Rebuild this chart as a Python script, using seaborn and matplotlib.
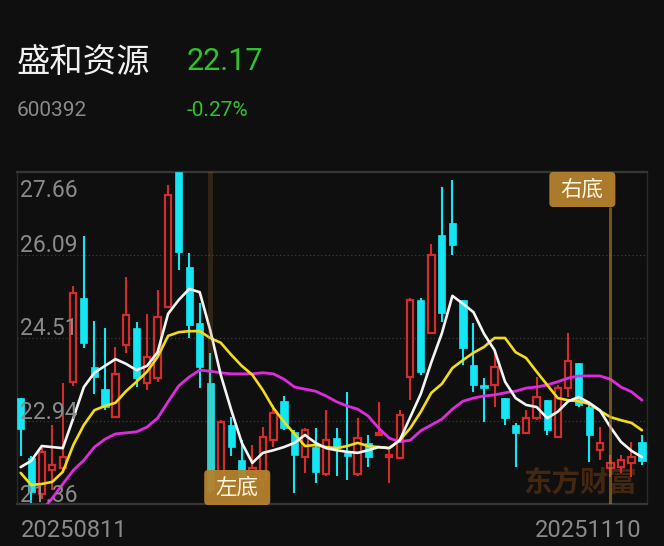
import numpy as np
import pandas as pd
import matplotlib
matplotlib.use("Agg")
import matplotlib.pyplot as plt
import matplotlib.transforms as mtrans
from matplotlib.patches import FancyBboxPatch
import seaborn as sns

# ---------------- data ----------------
stock_name = "盛和资源"
stock_code = "600392"
last_price = "22.17"
pct_change = "-0.27%"
date_labels = ["20250811", "20251110"]
y_tick_labels = ["27.66", "26.09", "24.51", "22.94", "21.36"]
y_tick_values = [27.66, 26.085, 24.51, 22.935, 21.36]

opens = [23.37, 22.23, 21.55, 22.00, 22.05, 23.67, 25.27, 23.96, 23.54, 23.01,
         24.38, 24.70, 23.66, 23.75, 25.10, 27.66, 25.86, 24.79, 23.66, 21.70,
         22.86, 22.19, 21.85, 21.82, 22.57, 23.31, 22.73, 22.25, 22.44, 21.93,
         22.61, 22.32, 21.93, 22.52, 22.67, 22.25, 22.23, 23.77, 25.23, 24.60,
         26.46, 26.69, 25.23, 24.00, 23.62, 23.62, 23.37, 22.86, 22.71, 22.99,
         23.33, 22.63, 23.56, 24.04, 23.20, 22.38, 22.04, 22.06, 22.14, 22.54]
closes = [22.78, 21.59, 22.35, 22.10, 22.25, 25.36, 24.42, 23.77, 23.20, 23.83,
          24.95, 23.75, 24.15, 24.91, 27.22, 26.14, 24.76, 23.96, 21.63, 22.92,
          22.44, 21.87, 22.05, 22.63, 23.09, 22.80, 22.29, 22.76, 21.97, 22.57,
          22.42, 22.27, 22.61, 22.25, 22.71, 22.29, 23.05, 25.23, 23.86, 26.09,
          24.98, 26.27, 24.32, 23.62, 23.56, 23.96, 22.99, 22.71, 22.99, 23.39,
          22.76, 23.56, 24.07, 23.24, 22.67, 22.52, 22.14, 22.19, 22.25, 22.17]
highs = [23.37, 22.27, 22.42, 22.86, 23.65, 25.50, 26.45, 24.83, 24.70, 24.34,
         25.67, 24.81, 24.97, 25.42, 27.41, 27.70, 26.12, 25.17, 24.23, 22.95,
         23.01, 22.57, 22.48, 22.82, 23.24, 23.41, 22.76, 22.80, 22.80, 23.14,
         22.80, 23.49, 22.99, 22.67, 23.30, 22.38, 23.14, 25.27, 25.27, 26.29,
         27.38, 27.51, 25.23, 24.79, 23.75, 24.23, 23.37, 22.90, 23.14, 23.77,
         23.33, 23.62, 24.61, 24.04, 23.24, 22.82, 22.29, 22.29, 22.54, 22.67]
lows = [22.27, 21.38, 21.45, 21.63, 21.98, 23.60, 24.32, 23.45, 23.14, 23.01,
        24.23, 23.58, 23.52, 23.68, 25.10, 25.80, 24.51, 23.56, 21.57, 21.63,
        22.27, 21.78, 21.67, 21.68, 22.44, 22.76, 21.57, 21.94, 21.76, 21.89,
        21.89, 21.82, 21.89, 22.06, 22.65, 21.76, 22.23, 23.33, 23.81, 24.60,
        24.81, 26.09, 24.00, 23.49, 22.92, 23.20, 22.86, 22.06, 22.71, 22.95,
        22.67, 22.63, 23.39, 23.20, 22.16, 22.19, 21.87, 21.95, 21.87, 22.10]

ma5 = [22.06, 22.18, 22.46, 22.44, 22.42, 22.99, 23.58, 23.85, 23.98, 24.11,
       24.02, 23.90, 23.98, 24.24, 24.97, 25.23, 25.44, 25.38, 24.66, 23.81,
       23.14, 22.52, 22.14, 22.33, 22.38, 22.44, 22.52, 22.67, 22.52, 22.42,
       22.38, 22.35, 22.33, 22.38, 22.44, 22.42, 22.57, 23.01, 23.45, 24.05,
       24.60, 25.31, 25.16, 25.00, 24.59, 24.28, 23.68, 23.37, 23.24, 23.20,
       22.99, 23.11, 23.31, 23.39, 23.28, 23.14, 22.82, 22.54, 22.37, 22.25]
ma10 = [21.95, 21.72, 21.74, 21.78, 21.97, 22.48, 22.86, 23.14, 23.22, 23.28,
        23.50, 23.68, 23.87, 24.15, 24.55, 24.62, 24.64, 24.64, 24.51, 24.42,
        24.19, 23.98, 23.81, 23.52, 23.18, 22.92, 22.69, 22.46, 22.48, 22.44,
        22.42, 22.46, 22.52, 22.46, 22.44, 22.42, 22.57, 22.80, 23.11, 23.47,
        23.64, 23.94, 24.09, 24.23, 24.34, 24.51, 24.51, 24.24, 24.13, 23.87,
        23.62, 23.37, 23.33, 23.31, 23.26, 23.13, 23.01, 22.95, 22.90, 22.76]
ma20 = [20.75, 20.98, 21.23, 21.47, 21.74, 22.00, 22.19, 22.44, 22.59, 22.69,
        22.71, 22.73, 22.82, 22.99, 23.30, 23.60, 23.77, 23.90, 23.88, 23.85,
        23.83, 23.83, 23.83, 23.85, 23.83, 23.73, 23.58, 23.54, 23.50, 23.41,
        23.30, 23.22, 23.16, 23.03, 22.80, 22.61, 22.54, 22.57, 22.75, 22.86,
        22.97, 23.16, 23.31, 23.37, 23.41, 23.43, 23.47, 23.50, 23.56, 23.58,
        23.62, 23.68, 23.75, 23.79, 23.79, 23.79, 23.73, 23.58, 23.49, 23.33]

left_bottom_idx = 18
right_bottom_idx = 56
left_label = "左底"
right_label = "右底"
watermark = "东方财富"

# ---------------- style ----------------
BG = "#0f0f0f"
RED = "#d42b2b"
CYAN = "#14e6f4"
GOLD = "#b5812d"
GRAY = "#8a8a8a"
GREEN = "#2fc22f"

sns.set_theme(style="dark")
plt.rcParams["font.family"] = ["Roboto", "Noto Sans CJK SC", "DejaVu Sans"]
CJK = ["Noto Sans CJK SC", "DejaVu Sans"]

W, H = 664, 546
fig = plt.figure(figsize=(W / 100, H / 100), dpi=100, facecolor=BG)
AX_L, AX_R, AX_T, AX_B = 17, 647, 172, 504
ax = fig.add_axes([AX_L / W, (H - AX_B) / H, (AX_R - AX_L) / W, (AX_B - AX_T) / H])
ax.set_facecolor(BG)

df = pd.DataFrame({"open": opens, "close": closes, "high": highs, "low": lows,
                   "ma5": ma5, "ma10": ma10, "ma20": ma20})
df["idx"] = np.arange(len(df))
up = df["close"] >= df["open"]

ax.set_xlim(-0.35, len(df) - 0.52)
ax.set_ylim(y_tick_values[-1], y_tick_values[0])

# grid lines (dotted)
for v in y_tick_values[1:-1]:
    ax.axhline(v, color="#3c3c3c", lw=0.9, ls=(0, (1, 2)), zorder=1)

# wicks
ax.vlines(df["idx"][~up], df["low"][~up], df["high"][~up], color=CYAN, lw=1.5, zorder=2)
ax.vlines(df["idx"][up], df["low"][up], df["high"][up], color=RED, lw=1.5, zorder=2)
# bodies
dn = df[~up]
ax.bar(dn["idx"], dn["open"] - dn["close"], bottom=dn["close"], width=0.68,
       color=CYAN, edgecolor=CYAN, lw=0.5, zorder=3)
uu = df[up]
ax.bar(uu["idx"], (uu["close"] - uu["open"]).clip(lower=0.02), bottom=uu["open"], width=0.6,
       facecolor=BG, edgecolor=RED, lw=1.6, zorder=3)

# moving averages via seaborn
sns.lineplot(data=df, x="idx", y="ma20", color="#dd2bdd", lw=2.0, ax=ax, zorder=5)
sns.lineplot(data=df, x="idx", y="ma10", color="#f2dc1a", lw=1.9, ax=ax, zorder=6)
sns.lineplot(data=df, x="idx", y="ma5", color="#f4f4f4", lw=1.9, ax=ax, zorder=7)

ax.set_xlabel("")
ax.set_ylabel("")
ax.set_xticks([])
ax.set_yticks([])
for s in ["top", "bottom"]:
    ax.spines[s].set_color("#363636")
    ax.spines[s].set_linewidth(1.6)
for s in ["left", "right"]:
    ax.spines[s].set_color("#2a2a2a")
    ax.spines[s].set_linewidth(1.0)

# watermark
ax.text((580 - AX_L) / (AX_R - AX_L), (AX_B - 483) / (AX_B - AX_T), watermark,
        transform=ax.transAxes, ha="center", va="center", family=CJK,
        fontsize=20.5, fontweight="bold", color="#44270f", zorder=0.5)

# marker lines
axh = AX_B - AX_T
ax.axvline(left_bottom_idx, ymin=(AX_B - 470) / axh, ymax=1, color=GOLD, alpha=0.2,
           lw=3.6, zorder=8)
ax.axvline(right_bottom_idx, ymin=0, ymax=(AX_B - 208) / axh, color=GOLD, alpha=0.6,
           lw=2.2, zorder=8)

def label_box(idx, dx_left, top_px, text):
    lx = ax.transData.transform((idx, 0))[0]
    x0 = lx + dx_left
    y0 = H - (top_px + 35)
    box = FancyBboxPatch((x0, y0), 66, 35, boxstyle="round,pad=0,rounding_size=4",
                         transform=None, facecolor=GOLD, edgecolor="none",
                         alpha=0.95, zorder=9)
    fig.patches.append(box)
    fig.text((x0 + 33) / W, (y0 + 17.5) / H, text, ha="center", va="center",
             family=CJK, fontsize=15.5, color="#fff6e4", zorder=10)

label_box(left_bottom_idx, -6, 470, left_label)
label_box(right_bottom_idx, -61, 172, right_label)

# y tick labels
tx = (20 - AX_L) / (AX_R - AX_L)
for lab, v in zip(y_tick_labels, y_tick_values):
    frac = (v - y_tick_values[-1]) / (y_tick_values[0] - y_tick_values[-1])
    if lab == y_tick_labels[0]:
        yb = frac - 25 / axh
    else:
        yb = frac + 2.5 / axh
    ax.text(tx, yb, lab, transform=ax.transAxes, ha="left", va="baseline",
            fontsize=16.5, color=GRAY, zorder=10)

# date labels
bt = mtrans.blended_transform_factory(ax.transData, ax.transAxes)
ax.text(0, (AX_B - 537) / axh, date_labels[0], transform=bt, ha="left", va="baseline",
        fontsize=17, color=GRAY)
ax.text(len(df) - 1, (AX_B - 537) / axh, date_labels[1], transform=bt, ha="right",
        va="baseline", fontsize=17, color=GRAY)

# header
fig.text(17 / W, (H - 72) / H, stock_name, family=CJK, fontsize=24, color="#f0f0f0",
         va="baseline", ha="left")
fig.text(187 / W, (H - 70) / H, last_price, fontsize=22, color=GREEN, va="baseline", ha="left")
fig.text(17 / W, (H - 116) / H, stock_code, fontsize=15, color=GRAY, va="baseline", ha="left")
fig.text(187 / W, (H - 116) / H, pct_change, fontsize=15, color=GREEN, va="baseline", ha="left")

fig.savefig("out.png", dpi=100, facecolor=BG)
